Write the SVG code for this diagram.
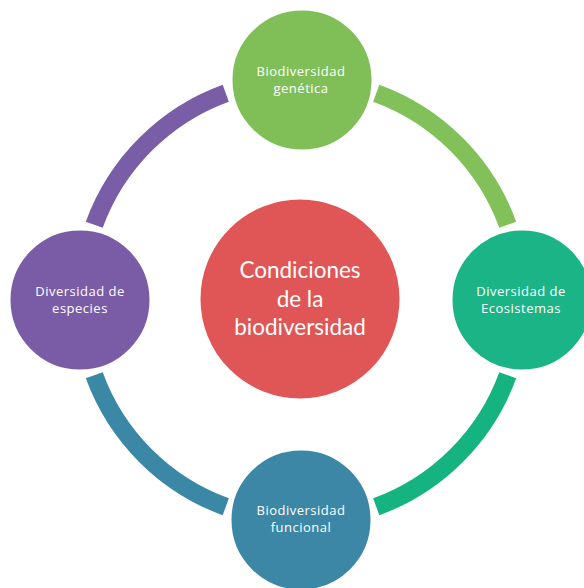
<svg xmlns="http://www.w3.org/2000/svg" width="584" height="588" viewBox="0 0 584 588">
<style>
.arc{fill:none;stroke-width:18;stroke-linecap:butt}
.node{stroke:#ffffff;stroke-width:3}
.lbl{font-family:"Open Sans","Noto Sans",sans-serif;font-size:13px;fill:#ffffff;text-anchor:middle;letter-spacing:0.5px}
.ctr{font-family:Lato,"Open Sans",sans-serif;font-size:22.5px;fill:#ffffff;text-anchor:middle}
</style>
<rect width="584" height="588" fill="#ffffff"/>
<g id="connectors">
<path class="arc" stroke="#82c05a" d="M376.24,93.27 A220,220 0 0 1 507.73,224.76"/>
<path class="arc" stroke="#15b37f" d="M507.73,375.24 A220,220 0 0 1 376.24,506.73"/>
<path class="arc" stroke="#3b88a6" d="M225.76,506.73 A220,220 0 0 1 94.27,375.24"/>
<path class="arc" stroke="#7a5da7" d="M94.27,224.76 A220,220 0 0 1 225.76,93.27"/>
</g>
<g id="center">
<circle class="node" cx="300" cy="299" r="101" fill="#e05656"/>
<text class="ctr" x="300" y="278">Condiciones</text>
<text class="ctr" x="300" y="306.5">de la</text>
<text class="ctr" x="300" y="335">biodiversidad</text>
</g>
<g id="genetica">
<circle class="node" cx="302" cy="80" r="71" fill="#80bf58"/>
<text class="lbl" x="301" y="76">Biodiversidad</text>
<text class="lbl" x="301" y="93">genética</text>
</g>
<g id="ecosistemas">
<circle class="node" cx="522" cy="300" r="71" fill="#1bb487"/>
<text class="lbl" x="521" y="296">Diversidad de</text>
<text class="lbl" x="521" y="313">Ecosistemas</text>
</g>
<g id="funcional">
<circle class="node" cx="301" cy="520" r="71" fill="#3b87a5"/>
<text class="lbl" x="301" y="515">Biodiversidad</text>
<text class="lbl" x="301" y="532">funcional</text>
</g>
<g id="especies">
<circle class="node" cx="80" cy="300" r="71" fill="#7a5ca6"/>
<text class="lbl" x="80" y="296">Diversidad de</text>
<text class="lbl" x="80" y="313">especies</text>
</g>
</svg>
